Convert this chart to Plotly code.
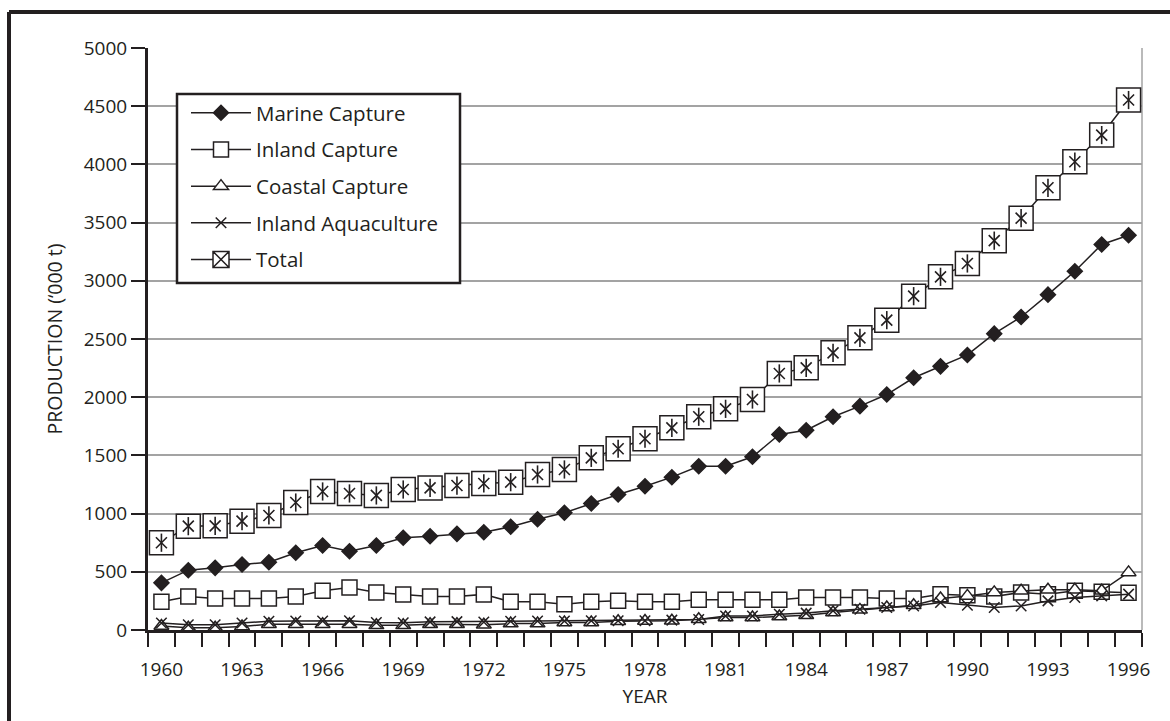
import plotly.graph_objects as go

# ---------------- data ----------------
YEARS = list(range(1960, 1997))
TICK_YEARS = [1960, 1963, 1966, 1969, 1972, 1975, 1978, 1981, 1984, 1987, 1990, 1993, 1996]
TICK_LABELS = [str(y) for y in TICK_YEARS]

marine_capture = [405, 514, 534, 563, 582, 663, 726, 677, 726, 792, 806, 826, 840,
                  887, 952, 1007, 1087, 1164, 1235, 1313, 1407, 1407, 1488, 1680,
                  1716, 1832, 1923, 2023, 2167, 2265, 2363, 2546, 2689, 2881, 3082,
                  3312, 3392]
inland_capture = [242, 288, 271, 271, 271, 288, 337, 366, 323, 306, 288, 288, 306,
                  242, 242, 222, 242, 252, 242, 242, 259, 259, 259, 259, 280, 280,
                  280, 271, 271, 308, 299, 288, 323, 308, 337, 328, 320]
coastal_capture = [35, 20, 20, 30, 50, 50, 50, 50, 40, 40, 50, 50, 45, 55, 55, 65,
                   65, 75, 78, 80, 93, 107, 107, 116, 127, 150, 173, 193, 213, 271,
                   293, 323, 337, 345, 345, 337, 495]
inland_aquaculture = [60, 45, 45, 60, 75, 78, 78, 80, 65, 62, 70, 72, 68, 75, 78, 78,
                      80, 80, 80, 85, 90, 121, 121, 136, 145, 165, 179, 193, 207, 237,
                      213, 193, 207, 250, 280, 293, 308]
total = [750, 892, 895, 935, 984, 1095, 1190, 1173, 1156, 1207, 1221, 1241, 1259,
         1270, 1336, 1379, 1479, 1557, 1643, 1737, 1832, 1900, 1980, 2204, 2252,
         2381, 2510, 2662, 2868, 3034, 3149, 3345, 3538, 3799, 4023, 4252, 4553]

SERIES_NAMES = ["Marine Capture", "Inland Capture", "Coastal Capture",
                "Inland Aquaculture", "Total"]

# ---------------- styling ----------------
INK = "#231f20"
FONT = "Open Sans"
GRID = "#a3a3a3"

fig = go.Figure()

def line_trace(y, name, symbol, size, fill, group, showlegend=True, lwidth=1.5):
    return go.Scatter(
        x=YEARS, y=y, name=name, mode="lines+markers",
        legendgroup=group, showlegend=showlegend,
        line=dict(color=INK, width=1.5),
        marker=dict(symbol=symbol, size=size, color=fill,
                    line=dict(color=INK, width=lwidth)),
        hoverinfo="x+y+name",
    )

fig.add_trace(line_trace(marine_capture, SERIES_NAMES[0], "diamond", 11.5, INK, "g1"))
fig.add_trace(line_trace(inland_capture, SERIES_NAMES[1], "square", 15, "white", "g2"))
fig.add_trace(line_trace(coastal_capture, SERIES_NAMES[2], "triangle-up", 13, "white", "g3"))
fig.add_trace(line_trace(inland_aquaculture, SERIES_NAMES[3], "x-thin", 10.5, INK, "g4"))
# Total: square with asterisk (square + x + vertical stroke)
fig.add_trace(line_trace(total, SERIES_NAMES[4], "square", 24, "white", "g5", showlegend=False))
fig.add_trace(go.Scatter(x=YEARS, y=total, mode="markers", showlegend=False,
                         legendgroup="g5", hoverinfo="skip",
                         marker=dict(symbol="x-thin", size=11, color=INK,
                                     line=dict(color=INK, width=1.6))))
fig.add_trace(go.Scatter(x=YEARS, y=total, mode="markers", showlegend=False,
                         legendgroup="g5", hoverinfo="skip",
                         marker=dict(symbol="line-ns", size=13, color=INK,
                                     line=dict(color=INK, width=1.6))))
# legend entry for Total
fig.add_trace(go.Scatter(x=[None], y=[None], name=SERIES_NAMES[4], mode="lines+markers",
                         legendgroup="g5",
                         line=dict(color=INK, width=1.5),
                         marker=dict(symbol="square-x", size=16, color="white",
                                     line=dict(color=INK, width=1.5))))

# plot-area geometry (pixels)
L, R, T, B = 148, 1142, 48, 630
W, H = 1170, 721
pw, ph = R - L, B - T

def px_x(p):
    return (p - L) / pw

def px_y(p):
    return (B - p) / ph

shapes = [
    # right border of plot area (thin grey)
    dict(type="line", xref="x domain", yref="y domain", x0=1, x1=1, y0=0, y1=1,
         line=dict(color=GRID, width=1.5), layer="below"),
    # legend box
    dict(type="rect", xref="paper", yref="paper",
         x0=px_x(177), x1=px_x(460), y0=px_y(283), y1=px_y(94),
         fillcolor="white", line=dict(color=INK, width=2.5), layer="above"),
    # outer frame (left + top)
    dict(type="line", xref="paper", yref="paper",
         x0=px_x(9), x1=px_x(9), y0=px_y(12), y1=px_y(H + 5),
         line=dict(color=INK, width=4)),
    dict(type="line", xref="paper", yref="paper",
         x0=px_x(9), x1=px_x(W + 5), y0=px_y(12), y1=px_y(12),
         line=dict(color=INK, width=4)),
]

fig.update_layout(
    width=W, height=H,
    margin=dict(l=L, r=W - R, t=T, b=H - B, pad=0),
    paper_bgcolor="white", plot_bgcolor="white",
    font=dict(family=FONT, color=INK, size=19),
    shapes=shapes,
    showlegend=True,
    legend=dict(
        x=px_x(186), y=px_y(93), xanchor="left", yanchor="top",
        bgcolor="rgba(0,0,0,0)", borderwidth=0,
        font=dict(family=FONT, size=20.5, color=INK),
        tracegroupgap=7, itemwidth=60,
        traceorder="grouped",
    ),
    xaxis=dict(
        range=[1959.5, 1996.5],
        tickmode="array", tickvals=TICK_YEARS, ticktext=TICK_LABELS,
        ticks="outside", ticklen=20, tickcolor="rgba(0,0,0,0)",
        tickfont=dict(family=FONT, size=19, color=INK),
        showgrid=False, zeroline=False,
        showline=True, linecolor=INK, linewidth=3,
        minor=dict(tickmode="linear", tick0=1959.5, dtick=1, ticks="outside",
                   ticklen=14, tickwidth=2, tickcolor=INK, showgrid=False),
        title=dict(text="YEAR", font=dict(family=FONT, size=19, color=INK), standoff=9),
    ),
    yaxis=dict(
        range=[0, 5000], dtick=500, tick0=0,
        ticks="outside", ticklen=14, tickwidth=2, tickcolor=INK,
        tickfont=dict(family=FONT, size=19, color=INK),
        showgrid=True, gridcolor=GRID, gridwidth=1.5,
        zeroline=False,
        showline=True, linecolor=INK, linewidth=3,
        title=dict(text="PRODUCTION (‘000 t)", font=dict(family=FONT, size=19.5, color=INK),
                   standoff=16),
    ),
)

fig.write_html(
    "out.html",
    config={"displayModeBar": False},
    post_script="document.body.style.margin='0px';document.body.style.overflow='hidden';",
)
